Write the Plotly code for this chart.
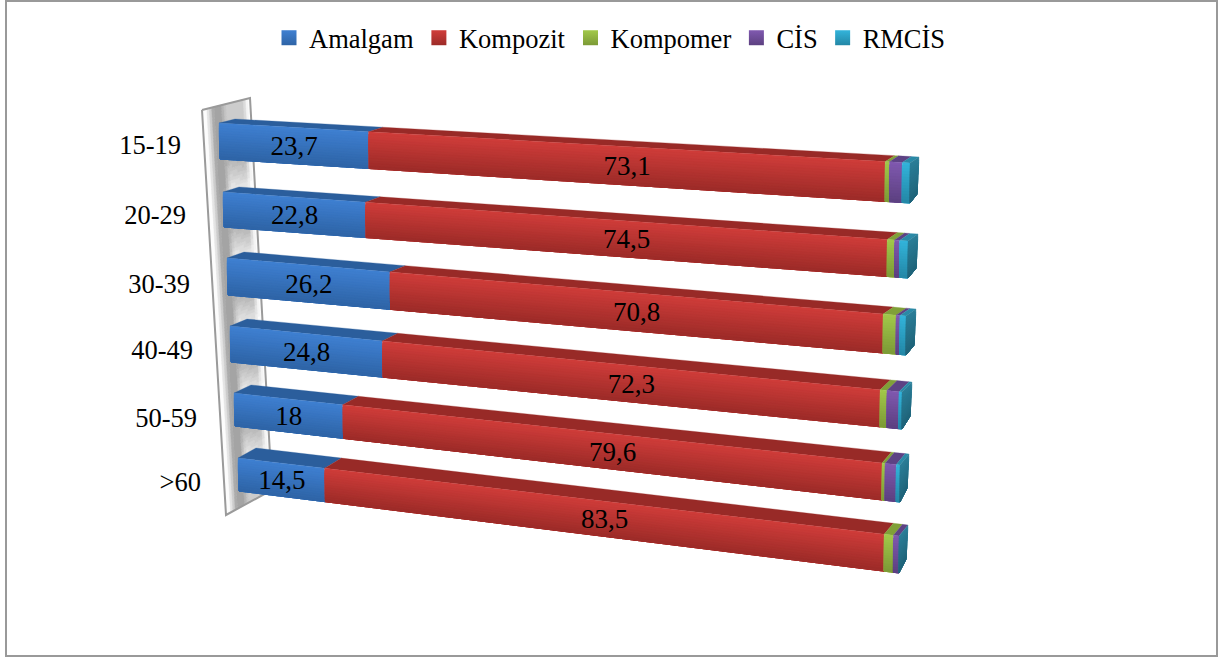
import plotly.graph_objects as go

# ---- data -------------------------------------------------------------
categories = ["15-19", "20-29", "30-39", "40-49", "50-59", ">60"]
series_names = ["Amalgam", "Kompozit", "Kompomer", "CİS", "RMCİS"]
amalgam = [23.7, 22.8, 26.2, 24.8, 18, 14.5]
kompozit = [73.1, 74.5, 70.8, 72.3, 79.6, 83.5]
kompomer = [0.55, 0.95, 1.7, 0.9, 0.4, 1.25]
cis = [1.65, 0.65, 0.5, 1.6, 1.5, 0.75]
rmcis = [1.0, 1.1, 0.8, 0.4, 0.5, 0.0]
labelled_series = ["Amalgam", "Kompozit"]

# ---- styles -----------------------------------------------------------
front_top = ["#3F80D2", "#D03D3A", "#A2C94A", "#8059B0", "#33B4DB"]
front_bot = ["#2E64A6", "#9C2B28", "#7C9A36", "#5C4080", "#2387A6"]
top_face = ["#2B5E9C", "#982A27", "#80A038", "#5D4284", "#2A89A6"]
side_top, side_bot = "#2A7E98", "#1F6379"
FONT = "Liberation Serif"
FS = 26.5
TEXT_DY = 2.5

# ---- projection of the 3-D bar frame onto the page (pixels) ------------
W = 1.125  # perspective foreshortening along the value axis
FL_X = [219, 223, 227, 230, 234, 238]
FL_T = [123, 192, 258, 326, 393, 458]
FL_B = [159, 227, 295, 362, 426, 491]
FR_X = [910, 908, 906, 902, 900, 899]
FR_T = [163, 241, 316, 392, 465, 536]
FR_B = [203, 278, 355, 429, 502, 573]
BACK_L = [(16, -4), (16, -5), (17, -6), (17, -7), (17, -8), (18, -10)]
BACK_R = [(9, -6), (10, -7), (10, -7), (10, -10), (9, -11), (9, -11)]


def persp(t):
    return t / (t + W * (1 - t))


def lerp(a, b, f):
    return a + (b - a) * f


def mix(c1, c2, f):
    a = [int(c1[i:i + 2], 16) for i in (1, 3, 5)]
    b = [int(c2[i:i + 2], 16) for i in (1, 3, 5)]
    return "#%02X%02X%02X" % tuple(round(lerp(p, q, f)) for p, q in zip(a, b))


def front(i, value, v):
    s = persp(value / 100)
    x = lerp(lerp(FL_X[i], FL_X[i] + 1, v), FR_X[i], s)
    y = lerp(lerp(FL_T[i], FL_B[i], v), lerp(FR_T[i], FR_B[i], v), s)
    return x, y


def back_top(i, value):
    s = persp(value / 100)
    x = lerp(FL_X[i] + BACK_L[i][0], FR_X[i] + BACK_R[i][0], s)
    y = lerp(FL_T[i] + BACK_L[i][1], FR_T[i] + BACK_R[i][1], s)
    return x, y


def poly_xy(polys):
    xs, ys = [], []
    for p in polys:
        xs += [q[0] for q in p] + [p[0][0], None]
        ys += [q[1] for q in p] + [p[0][1], None]
    return xs, ys


fig = go.Figure()


def add_fill(polys, color, lw=0.3):
    xs, ys = poly_xy(polys)
    fig.add_trace(go.Scatter(x=xs, y=ys, mode="lines", fill="toself", fillcolor=color,
                             line=dict(color=color, width=lw), hoverinfo="skip",
                             showlegend=False))


# ---- wall -------------------------------------------------------------
WALL = [(202, 110), (250, 98), (272, 490), (226, 515)]


def wall_pt(u, v):
    x = lerp(lerp(WALL[0][0], WALL[1][0], u), lerp(WALL[3][0], WALL[2][0], u), v)
    y = lerp(lerp(WALL[0][1], WALL[1][1], u), lerp(WALL[3][1], WALL[2][1], u), v)
    return x, y


def wall_shade(u, v):
    """Grey level of the wall: bright rim, dark band, paler where it nears the next bar."""
    _, y = wall_pt(u, v)
    phase = 0.35
    for i in range(len(FL_B) - 1):
        if FL_B[i] - 6 <= y <= FL_T[i + 1] + 12:
            phase = (y - FL_B[i] + 6) / (FL_T[i + 1] + 18 - FL_B[i])
    inner = lerp(168, 248, min(1, phase * 1.15))
    if u < 0.08 or u > 0.94:
        return 252
    if u < 0.25:
        return lerp(252, 160, (u - 0.08) / 0.17)
    if u < 0.36:
        return 160
    if u < 0.5:
        return lerp(160, inner, (u - 0.36) / 0.14)
    if u < 0.82:
        return inner
    return lerp(inner, 252, (u - 0.82) / 0.12)


NU, NV = 20, 130
levels = {}
for m in range(NV):
    for k in range(NU):
        g = min(255, int(wall_shade((k + 0.5) / NU, (m + 0.5) / NV)) // 8 * 8 + 4)
        a, b, c, d = k / NU, (k + 1) / NU, m / NV, (m + 1) / NV
        levels.setdefault(g, []).append([wall_pt(a, c), wall_pt(b, c), wall_pt(b, d), wall_pt(a, d)])
for g, polys in sorted(levels.items(), reverse=True):
    add_fill(polys, "#%02X%02X%02X" % (g, g, g), lw=0.5)
fig.add_trace(go.Scatter(x=[p[0] for p in WALL] + [WALL[0][0]], y=[p[1] for p in WALL] + [WALL[0][1]],
                         mode="lines", line=dict(color="#9A9A9A", width=2), hoverinfo="skip",
                         showlegend=False))

# ---- bars -------------------------------------------------------------
rows = list(zip(amalgam, kompozit, kompomer, cis, rmcis))
STRIPS = 14
for k in range(len(series_names)):
    tops = []
    strips = [[] for _ in range(STRIPS)]
    for i, row in enumerate(rows):
        a = sum(row[:k])
        b = a + row[k]
        if row[k] <= 0:
            continue
        tops.append([front(i, a, 0), front(i, b, 0), back_top(i, b), back_top(i, a)])
        for j in range(STRIPS):
            v0 = j / STRIPS
            strips[j].append([front(i, a, v0), front(i, b, v0), front(i, b, 1), front(i, a, 1)])
    add_fill(tops, top_face[k])
    for j in range(STRIPS):
        add_fill(strips[j], mix(front_top[k], front_bot[k], (j + 0.5) / STRIPS))

# end caps
for j in range(STRIPS):
    polys = []
    v0 = j / STRIPS
    for i in range(len(rows)):
        f0, f1 = front(i, 100, v0), front(i, 100, 1)
        bx, by = back_top(i, 100)
        h = FR_B[i] - FR_T[i]
        polys.append([f0, (bx - 2 * v0, by + h * v0 * 0.93), (bx - 2, by + h * 0.93), f1])
    add_fill(polys, mix(side_top, side_bot, (j + 0.5) / STRIPS))

# ---- data labels ------------------------------------------------------
lab_x, lab_y, lab_t = [], [], []
for i, row in enumerate(rows):
    for k, name in enumerate(series_names):
        if name in labelled_series:
            a = sum(row[:k])
            b = a + row[k]
            p, q = front(i, a, 0.5), front(i, b, 0.5)
            lab_x.append((p[0] + q[0]) / 2)
            lab_y.append((p[1] + q[1]) / 2 + TEXT_DY)
            lab_t.append(f"{row[k]:g}".replace(".", ","))
fig.add_trace(go.Scatter(x=lab_x, y=lab_y, text=lab_t, mode="text", textposition="middle center",
                         textfont=dict(family=FONT, size=FS + 0.5, color="#000000"), showlegend=False,
                         hoverinfo="skip"))

# ---- category labels --------------------------------------------------
CAT_R = [181, 186, 190, 193, 197, 201]
CAT_Y = [147, 217, 286, 352, 420, 484]
fig.add_trace(go.Scatter(x=CAT_R, y=CAT_Y, text=categories, mode="text", textposition="middle left",
                         textfont=dict(family=FONT, size=FS, color="#000000"), showlegend=False,
                         hoverinfo="skip"))

# ---- legend -----------------------------------------------------------
for k, name in enumerate(series_names):
    fig.add_trace(go.Scatter(x=[None], y=[None], mode="markers", name=name,
                             marker=dict(symbol="square", size=15, color=front_top[k],
                                         gradient=dict(type="vertical", color=front_bot[k]))))

fig.update_layout(
    width=1232, height=657, margin=dict(l=0, r=0, t=0, b=0),
    paper_bgcolor="#FFFFFF", plot_bgcolor="#FFFFFF",
    xaxis=dict(range=[0, 1232], visible=False, fixedrange=True),
    yaxis=dict(range=[657, 0], visible=False, fixedrange=True),
    showlegend=True,
    legend=dict(orientation="h", x=610 / 1232, y=1 - 38 / 657, xanchor="center", yanchor="middle",
                font=dict(family=FONT, size=FS, color="#000000"), bgcolor="rgba(0,0,0,0)",
                tracegroupgap=0),
    shapes=[dict(type="rect", x0=6, y0=1, x1=1217, y1=656, line=dict(color="#999999", width=2),
                 layer="below")],
)
fig.write_html("out.html", post_script="document.body.style.margin='0';", config={"displayModeBar": False})
